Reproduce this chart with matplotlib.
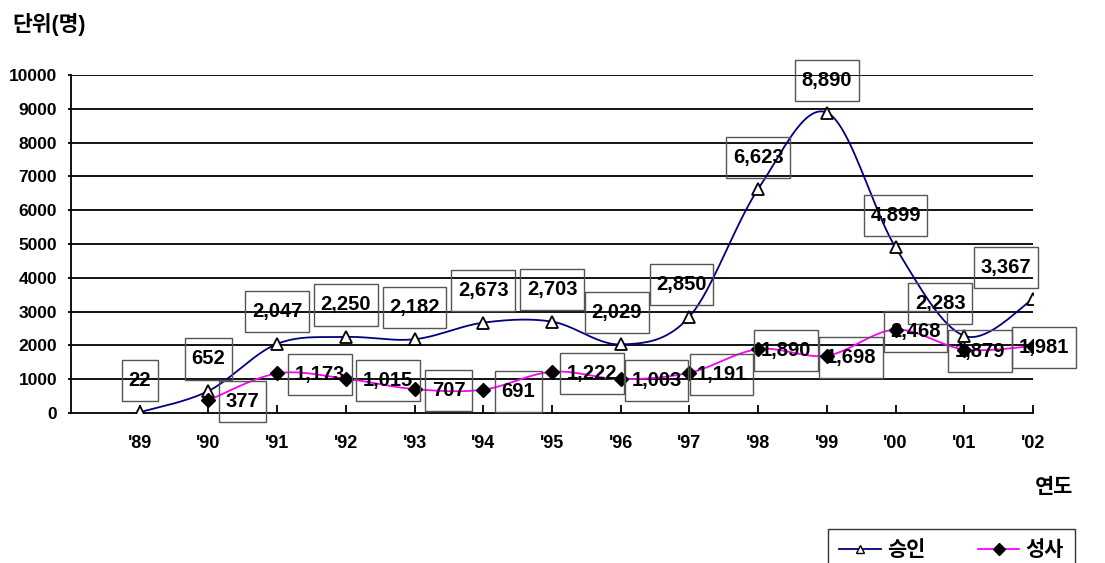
import matplotlib
matplotlib.use("Agg")
import matplotlib.pyplot as plt
from matplotlib.lines import Line2D
from matplotlib.path import Path
import numpy as np

plt.rcParams['font.family'] = ['Liberation Sans', 'Noto Sans CJK KR', 'DejaVu Sans']
plt.rcParams['font.weight'] = 'bold'

# yearly counts (persons)
years = ["'89", "'90", "'91", "'92", "'93", "'94", "'95", "'96", "'97", "'98", "'99", "'00", "'01", "'02"]
approved = [22, 652, 2047, 2250, 2182, 2673, 2703, 2029, 2850, 6623, 8890, 4899, 2283, 3367]
concluded = [None, 377, 1173, 1015, 707, 691, 1222, 1003, 1191, 1890, 1698, 2468, 1879, 1981]

# label box offsets from the marker, in pixels
approved_label_dx = [0, 0, 0, 0, 0, 0, 0, -4, -8, 0, 0, 0, -24, -27]
concluded_label_dx = [None, 34, 43, 42, 34, 35, 40, 36, 32, 28, 24, 20, 16, 11]


def smooth(xs, ys, n=24):
    """Catmull-Rom style bezier through the points (like a spreadsheet smoothed line)."""
    pts = np.column_stack([xs, ys]).astype(float)
    p = np.vstack([pts[0], pts, pts[-1]])
    t = np.linspace(0, 1, n)[:, None]
    out = []
    for i in range(1, len(p) - 2):
        p0, p1, p2, p3 = p[i - 1], p[i], p[i + 1], p[i + 2]
        c1 = p1 + (p2 - p0) / 6
        c2 = p2 - (p3 - p1) / 6
        seg = (1 - t) ** 3 * p1 + 3 * (1 - t) ** 2 * t * c1 + 3 * (1 - t) * t ** 2 * c2 + t ** 3 * p2
        out.append(seg if i == 1 else seg[1:])
    return np.vstack(out)


def label_box(x0, y0, width, height, mutation_size):
    # rectangle with less padding left/right than top/bottom
    px = 0.33 * mutation_size
    py = 0.55 * mutation_size
    x0, y0 = x0 - px, y0 - py
    x1, y1 = x0 + width + 2 * px, y0 + height + 2 * py
    return Path([(x0, y0), (x1, y0), (x1, y1), (x0, y1), (x0, y0)], closed=True)


fig = plt.figure(figsize=(11.05, 5.63), dpi=100)
ax = fig.add_axes([0.0643, 0.2664, 0.8705, 0.6004])

x = np.arange(len(years))

# gridlines
for g in range(1000, 10001, 1000):
    ax.axhline(g, color='black', lw=1.3, zorder=1)

# approved series
curve = smooth(x, approved)
ax.plot(curve[:, 0], curve[:, 1], color='#000080', lw=1.3, zorder=3)
ax.plot(x, approved, ls='none', marker='^', ms=8, mfc='white', mec='black', mew=1.3, zorder=4)

# concluded series (starts in '90)
cx = np.array([i for i, v in enumerate(concluded) if v is not None])
cy = np.array([v for v in concluded if v is not None])
curve = smooth(cx, cy)
ax.plot(curve[:, 0], curve[:, 1], color='#FF00FF', lw=1.3, zorder=3)
ax.plot(cx, cy, ls='none', marker='D', ms=7, mfc='black', mec='black', zorder=4)

box = dict(boxstyle=label_box, fc='none', ec='#555555', lw=1.0)

for i, v in enumerate(approved):
    ax.annotate(f"{v:,}", (i, v), xytext=(approved_label_dx[i], 32), textcoords='offset pixels',
                ha='center', va='center', fontsize=14.5, fontweight='bold', bbox=box, zorder=5)

for i, v in enumerate(concluded):
    if v is None:
        continue
    ax.annotate(f"{v:,}", (i, v), xytext=(concluded_label_dx[i], -1.5), textcoords='offset pixels',
                ha='center', va='center', fontsize=14.5, fontweight='bold', bbox=box, zorder=5)

ax.set_xlim(-1, 13)
ax.set_ylim(0, 10000)
ax.set_yticks(range(0, 10001, 1000))
ax.set_xticks(x)
ax.set_xticklabels(years)
ax.tick_params(axis='x', direction='in', length=6, width=1.3, pad=16, labelsize=13)
ax.tick_params(axis='y', direction='out', length=2, width=1.3, pad=8, labelsize=12.5)
for lab in ax.get_xticklabels() + ax.get_yticklabels():
    lab.set_fontweight('bold')

for side in ['top', 'right']:
    ax.spines[side].set_visible(False)
ax.spines['left'].set_linewidth(1.3)
ax.spines['bottom'].set_linewidth(1.3)

fig.text(12 / 1105, 1 - 24 / 563, '단위(명)', ha='left', va='center', fontsize=15.5, fontweight='bold')
fig.text(1035 / 1105, 1 - 487 / 563, '연도', ha='left', va='center', fontsize=15, fontweight='bold')

handles = [
    Line2D([], [], color='#000080', lw=1.3, marker='^', ms=6, mfc='white', mec='black'),
    Line2D([], [], color='#FF00FF', lw=1.3, marker='D', ms=6, mfc='black', mec='black'),
]
leg = fig.legend(handles, ['승인', '성사'], loc='upper left', bbox_to_anchor=(828 / 1105, 1 - 529 / 563),
                 ncol=2, frameon=True, fancybox=False, borderaxespad=0, borderpad=0.55,
                 handlelength=2.0, handletextpad=0.3, columnspacing=2.5,
                 prop={'size': 15, 'weight': 'bold'})
leg.get_frame().set_edgecolor('black')
leg.get_frame().set_linewidth(1.0)

fig.savefig('out.png', dpi=100)
